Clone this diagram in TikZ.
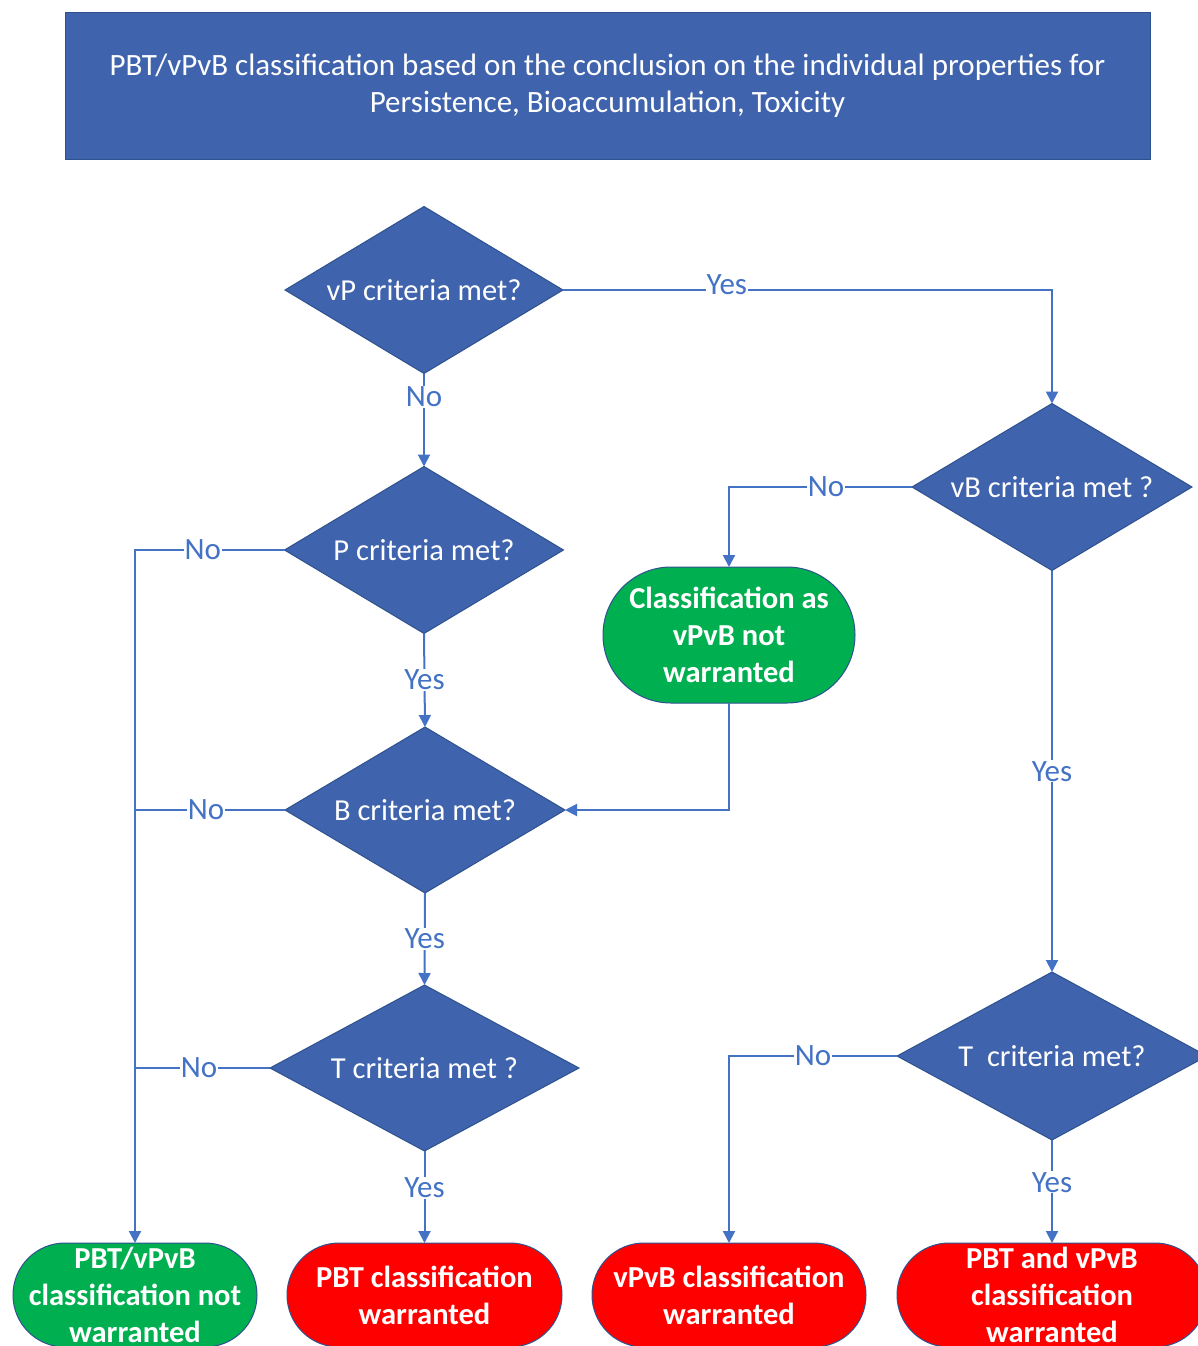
\documentclass[tikz,border=0pt]{standalone}
\usepackage{fontspec}
\setmainfont{Carlito}
\usetikzlibrary{shapes.geometric,arrows.meta}
\definecolor{dfill}{HTML}{3F63AC}
\definecolor{dborder}{HTML}{2F528F}
\definecolor{lineblue}{HTML}{4472C4}
\definecolor{tgreen}{HTML}{00B050}
\definecolor{tred}{HTML}{FF0000}
\begin{document}
\begin{tikzpicture}[x=1pt,y=-1pt,
 decision/.style={diamond, aspect=1.67, fill=dfill, draw=dborder, line width=1pt, inner sep=0pt, outer sep=0pt, text=white, font=\fontsize{30.5}{34}\selectfont},
 term/.style={rectangle, draw=dborder, line width=1pt, text=white, font=\bfseries\fontsize{30.5}{37}\selectfont, align=center, inner sep=0pt, outer sep=0pt},
 conn/.style={draw=lineblue, line width=2pt, -{Triangle[width=12pt,length=12pt]}},
 plainline/.style={draw=lineblue, line width=2pt},
 lbl/.style={fill=white, text=lineblue, font=\fontsize{31}{34}\selectfont, inner sep=1pt}
]
\useasboundingbox (0,0) rectangle (1198,1346);
\fill[white] (0,0) rectangle (1198,1346);
\clip (0,0) rectangle (1198,1346);

% title
\node[rectangle, fill=dfill, draw=dborder, line width=1pt, minimum width=1085pt, minimum height=146pt, text=white, align=center, font=\fontsize{31}{37}\selectfont, inner sep=0pt] (title) at (607.5,86) {PBT/vPvB classification based on the conclusion on the individual properties for\\Persistence, Bioaccumulation, Toxicity};

% decisions
\node[decision, minimum width=278pt, minimum height=167pt] (vP) at (424,290) {vP criteria met?};
\node[decision, minimum width=279pt, minimum height=167pt] (P) at (424,550) {P criteria met?};
\node[decision, minimum width=280pt, minimum height=166pt] (B) at (425,810) {B criteria met?};
\node[decision, minimum width=309pt, minimum height=166pt] (TL) at (424.5,1068) {T criteria met ?};
\node[decision, minimum width=280pt, minimum height=167pt] (vB) at (1052,487) {vB criteria met ?};
\node[decision, minimum width=310pt, minimum height=168pt] (TR) at (1052,1056) {T\ \ criteria met?};

% terminals
\node[term, fill=tgreen, minimum width=252pt, minimum height=136pt, rounded corners=68pt] (G) at (729,635) {Classification as\\vPvB not\\warranted};
\node[term, fill=tgreen, minimum width=244pt, minimum height=104pt, rounded corners=52pt] (LT) at (135,1295) {PBT/vPvB\\classification not\\warranted};
\node[term, fill=tred, minimum width=275pt, minimum height=104pt, rounded corners=52pt] (PBT) at (424.5,1295) {PBT classification\\warranted};
\node[term, fill=tred, minimum width=274pt, minimum height=104pt, rounded corners=52pt] (VPVB) at (729,1295) {vPvB classification\\warranted};
\node[term, fill=tred, minimum width=310pt, minimum height=104pt, rounded corners=52pt] (BOTH) at (1052,1295) {PBT and vPvB\\classification\\warranted};

% connectors
\draw[conn] (vP.south) -- node[lbl, pos=0.25] {No} (P.north);
\draw[conn] (vP.east) -- node[lbl, pos=0.335, yshift=5pt] {Yes} (vP.east -| vB.north) -- (vB.north);
\draw[conn] (P.south) -- node[lbl, pos=0.495] {Yes} (B.north);
\draw[conn] (B.south) -- node[lbl, pos=0.5] {Yes} (TL.north);
\draw[conn] (TL.south) -- node[lbl, pos=0.40] {Yes} (PBT.north);

\draw[conn] (P.west) -- node[lbl, pos=0.547] {No} (P.west -| LT.north) -- (LT.north);
\draw[plainline] (B.west) -- node[lbl, pos=0.527] {No} (B.west -| LT.north);
\draw[plainline] (TL.west) -- node[lbl, pos=0.526] {No} (TL.west -| LT.north);

\draw[conn] (vB.west) -- node[lbl, pos=0.47] {No} (vB.west -| G.north) -- (G.north);
\draw[conn] (G.south) -- (G.south |- B.east) -- (B.east);
\draw[conn] (vB.south) -- node[lbl, pos=0.5] {Yes} (TR.north);
\draw[conn] (TR.west) -- node[lbl, pos=0.5] {No} (TR.west -| VPVB.north) -- (VPVB.north);
\draw[conn] (TR.south) -- node[lbl, pos=0.41] {Yes} (BOTH.north);
\end{tikzpicture}
\end{document}
